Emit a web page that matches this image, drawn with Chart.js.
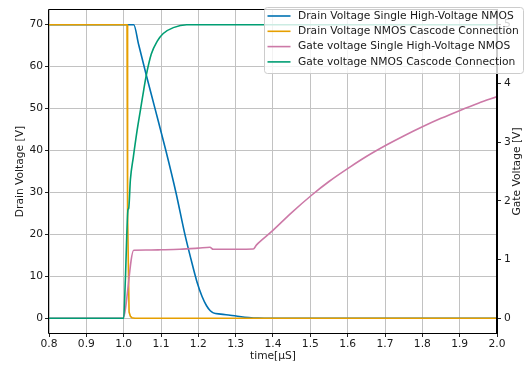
<!DOCTYPE html>
<html>
<head>
<meta charset="utf-8">
<script src="https://cdn.jsdelivr.net/npm/chart.js@4.4.1/dist/chart.umd.min.js"></script>
<style>
  html, body { margin: 0; padding: 0; background: #fff; }
  #wrap { width: 527px; height: 368px; }
</style>
</head>
<body>
<div id="wrap"><canvas id="myChart" width="527" height="368"></canvas></div>
<script>
// tick labels
const timeTicks = [0.8, 0.9, 1.0, 1.1, 1.2, 1.3, 1.4, 1.5, 1.6, 1.7, 1.8, 1.9, 2.0];
const drainTicks = [0, 10, 20, 30, 40, 50, 60, 70];
const gateTicks = [0, 1, 2, 3, 4, 5];

const seriesLabels = [
  'Drain Voltage Single High-Voltage NMOS',
  'Drain Voltage NMOS Cascode Connection',
  'Gate voltage Single High-Voltage NMOS',
  'Gate voltage NMOS Cascode Connection'
];
const seriesColors = ['#0072B2', '#E69F00', '#CC79A7', '#009E73'];

// drain voltage, single HV NMOS (left axis, V)
const drainSingleTime = [0.8, 1.0, 1.027, 1.04, 1.06, 1.084, 1.113, 1.14, 1.164, 1.18, 1.196, 1.21, 1.222, 1.232, 1.24, 1.26, 1.285, 1.31, 1.335, 1.36, 1.4, 2.0];
const drainSingleVolt = [70, 70, 70, 65.3, 58.2, 50, 40, 30, 20, 14.2, 8.8, 5.2, 3.0, 1.8, 1.3, 1.0, 0.75, 0.45, 0.2, 0.05, 0, 0];

// drain voltage, cascode (left axis, V)
const drainCascTime = [0.8, 1.009, 1.0105, 1.0145, 1.018, 1.022, 1.03, 2.0];
const drainCascVolt = [70, 70, 25, 1.5, 0.5, 0.15, 0, 0];

// gate voltage, single HV NMOS (right axis, V)
const gateSingleTime = [0.8, 0.998, 1.027, 1.06, 1.1, 1.15, 1.2, 1.231, 1.24, 1.27, 1.3, 1.347, 1.356, 1.396, 1.45, 1.504, 1.55, 1.606, 1.65, 1.705, 1.75, 1.803, 1.85, 1.901, 1.95, 2.0];
const gateSingleVolt = [0, 0, 1.16, 1.163, 1.167, 1.175, 1.195, 1.21, 1.175, 1.175, 1.177, 1.18, 1.25, 1.475, 1.80, 2.10, 2.33, 2.575, 2.755, 2.955, 3.105, 3.27, 3.405, 3.54, 3.662, 3.775];

// gate voltage, cascode (right axis, V)
const gateCascTime = [0.8, 1.0, 1.0045, 1.0116, 1.0135, 1.018, 1.026, 1.036, 1.045, 1.054, 1.06, 1.074, 1.09, 1.106, 1.133, 1.169, 1.2, 2.0];
const gateCascVolt = [0, 0, 0.65, 1.85, 1.87, 2.36, 2.75, 3.2, 3.55, 3.9, 4.12, 4.5, 4.72, 4.85, 4.95, 5.0, 5.0, 5.0];

function pts(t, v) {
  return t.map((x, i) => ({ x: x, y: v[i] }));
}

const framePlugin = {
  id: 'frame',
  afterDatasetsDraw(chart) {
    const { ctx, chartArea } = chart;
    const l = Math.round(chartArea.left) - 0.5;
    const r = Math.round(chartArea.right);
    const t = Math.round(chartArea.top) - 0.5;
    const b = Math.round(chartArea.bottom) + 0.5;
    ctx.save();
    ctx.strokeStyle = '#000';
    ctx.lineWidth = 1;
    ctx.beginPath();
    ctx.moveTo(l, t); ctx.lineTo(r, t);
    ctx.moveTo(l, t); ctx.lineTo(l, b);
    ctx.moveTo(l, b); ctx.lineTo(r, b);
    ctx.stroke();
    ctx.lineWidth = 2;
    ctx.beginPath();
    ctx.moveTo(r, t - 0.5); ctx.lineTo(r, b + 0.5);
    ctx.stroke();
    ctx.restore();
  }
};

const legendPlugin = {
  id: 'boxLegend',
  afterDraw(chart) {
    const { ctx, chartArea } = chart;
    const x0 = chartArea.right - 233, y0 = 7, w = 259, h = 66;
    ctx.save();
    ctx.beginPath();
    ctx.roundRect(x0 + 0.5, y0 + 0.5, w, h, 3);
    ctx.fillStyle = 'rgba(255,255,255,0.8)';
    ctx.fill();
    ctx.strokeStyle = '#cccccc';
    ctx.lineWidth = 1;
    ctx.stroke();
    ctx.font = '10.7px "DejaVu Sans"';
    ctx.textBaseline = 'middle';
    ctx.textAlign = 'left';
    chart.data.datasets.forEach((ds, i) => {
      const y = y0 + 9 + i * 15.3;
      ctx.strokeStyle = ds.borderColor;
      ctx.lineWidth = 1.6;
      ctx.beginPath();
      ctx.moveTo(x0 + 3.5, y);
      ctx.lineTo(x0 + 26.5, y);
      ctx.stroke();
      ctx.fillStyle = '#1a1a1a';
      ctx.fillText(ds.label, x0 + 34, y);
    });
    ctx.restore();

    // right axis title, read bottom to top
    ctx.save();
    ctx.font = '10.7px "DejaVu Sans"';
    ctx.fillStyle = '#1a1a1a';
    ctx.textAlign = 'center';
    ctx.textBaseline = 'middle';
    ctx.translate(517, (chartArea.top + chartArea.bottom) / 2);
    ctx.rotate(-Math.PI / 2);
    ctx.fillText('Gate Voltage [V]', 0, 0);
    ctx.restore();
  }
};

Chart.defaults.font.family = 'DejaVu Sans';
Chart.defaults.font.size = 10.7;
Chart.defaults.color = '#1a1a1a';

const ctx = document.getElementById('myChart');
new Chart(ctx, {
  type: 'line',
  data: {
    datasets: [
      { label: seriesLabels[0], data: pts(drainSingleTime, drainSingleVolt), borderColor: seriesColors[0], yAxisID: 'y', order: 3, cubicInterpolationMode: 'monotone' },
      { label: seriesLabels[1], data: pts(drainCascTime, drainCascVolt), borderColor: seriesColors[1], yAxisID: 'y', order: 2 },
      { label: seriesLabels[2], data: pts(gateSingleTime, gateSingleVolt), borderColor: seriesColors[2], yAxisID: 'y2', order: 1, cubicInterpolationMode: 'monotone' },
      { label: seriesLabels[3], data: pts(gateCascTime, gateCascVolt), borderColor: seriesColors[3], yAxisID: 'y2', order: 0, cubicInterpolationMode: 'monotone' }
    ]
  },
  options: {
    responsive: false,
    animation: false,
    layout: { padding: { top: 10, left: 0, right: 0, bottom: 0 } },
    elements: {
      point: { radius: 0 },
      line: { borderWidth: 1.6, tension: 0, fill: false }
    },
    plugins: {
      legend: { display: false },
      tooltip: { enabled: false }
    },
    scales: {
      x: {
        type: 'linear',
        min: 0.8,
        max: 2.0,
        afterBuildTicks: s => { s.ticks = timeTicks.map(v => ({ value: v })); },
        afterFit: s => { s.height = 35; },
        ticks: { callback: v => v.toFixed(1), padding: 1, maxRotation: 0, autoSkip: false },
        grid: { color: '#c2c2c2', tickColor: '#222', tickLength: 4 },
        border: { display: false },
        title: { display: true, text: 'time[µS]', padding: { top: 0, bottom: 5 } }
      },
      y: {
        position: 'left',
        min: -3.5,
        max: 73.5,
        afterBuildTicks: s => { s.ticks = drainTicks.map(v => ({ value: v })); },
        afterFit: s => { s.width = 49; },
        ticks: { padding: 2 },
        grid: { color: '#c2c2c2', tickColor: '#222', tickLength: 4 },
        border: { display: false },
        title: { display: true, text: 'Drain Voltage [V]', padding: { top: 14, bottom: 0 } }
      },
      y2: {
        position: 'right',
        min: -0.25,
        max: 5.25,
        afterBuildTicks: s => { s.ticks = gateTicks.map(v => ({ value: v })); },
        afterFit: s => { s.width = 30; },
        ticks: { padding: 3 },
        grid: { drawOnChartArea: false, tickColor: '#222', tickLength: 4 },
        border: { display: false }
      }
    }
  },
  plugins: [framePlugin, legendPlugin]
});
</script>
</body>
</html>
